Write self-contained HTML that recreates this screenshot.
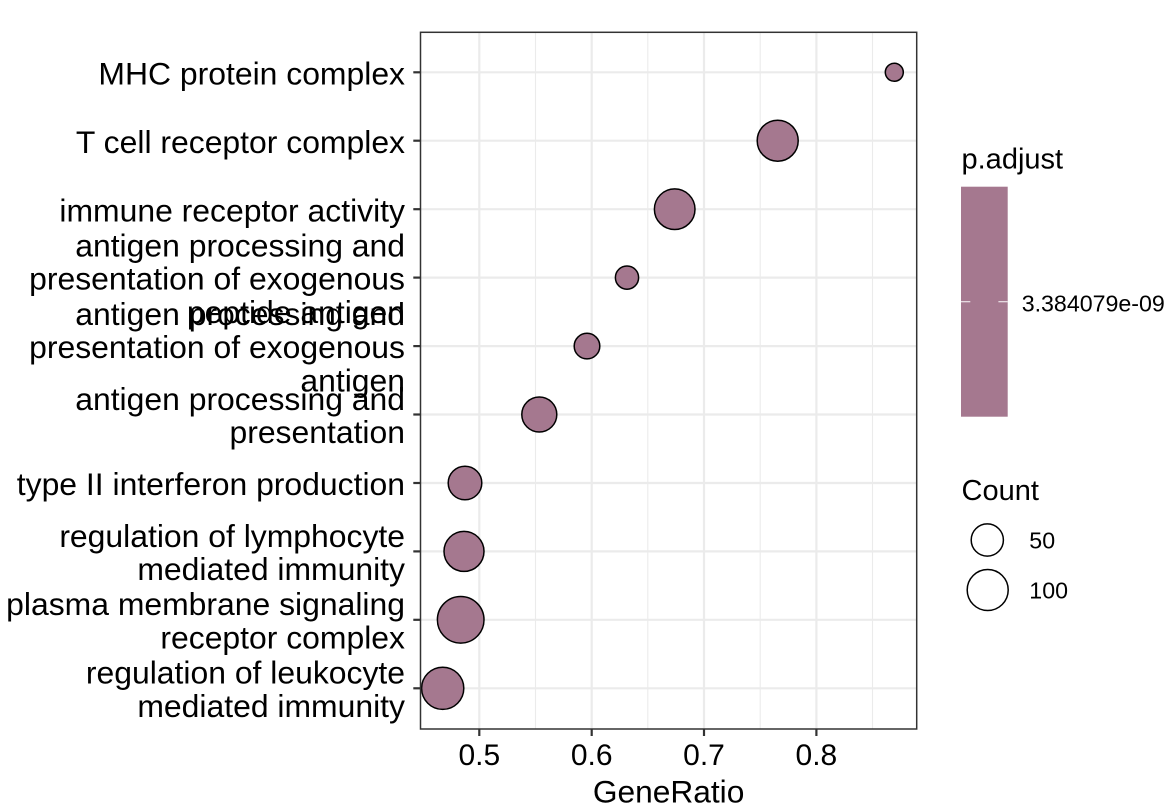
<!DOCTYPE html>
<html>
<head>
<meta charset="utf-8">
<style>
html,body{margin:0;padding:0;background:#fff;}
svg{display:block;}
text{font-family:"Liberation Sans",Arial,Helvetica,sans-serif;fill:#000;}
.yl{font-size:31.9px;text-anchor:end;}
.xl{font-size:30px;text-anchor:middle;fill:#000;}
</style>
</head>
<body>
<svg width="1170" height="810" viewBox="0 0 1170 810" xmlns="http://www.w3.org/2000/svg">
<rect x="0" y="0" width="1170" height="810" fill="#fff"/>
<rect x="420.5" y="32.3" width="496.2" height="696.7" fill="#fff"/>
<g stroke="#EBEBEB" stroke-width="1.1">
<line x1="535.5" y1="32.3" x2="535.5" y2="729"/>
<line x1="647.8" y1="32.3" x2="647.8" y2="729"/>
<line x1="760.2" y1="32.3" x2="760.2" y2="729"/>
<line x1="872.5" y1="32.3" x2="872.5" y2="729"/>
</g>
<g stroke="#EBEBEB" stroke-width="2.2">
<line x1="479.3" y1="32.3" x2="479.3" y2="729"/>
<line x1="591.7" y1="32.3" x2="591.7" y2="729"/>
<line x1="704" y1="32.3" x2="704" y2="729"/>
<line x1="816.4" y1="32.3" x2="816.4" y2="729"/>
<line x1="420.5" y1="72.3" x2="916.7" y2="72.3"/>
<line x1="420.5" y1="140.7" x2="916.7" y2="140.7"/>
<line x1="420.5" y1="209.2" x2="916.7" y2="209.2"/>
<line x1="420.5" y1="277.6" x2="916.7" y2="277.6"/>
<line x1="420.5" y1="346.1" x2="916.7" y2="346.1"/>
<line x1="420.5" y1="414.5" x2="916.7" y2="414.5"/>
<line x1="420.5" y1="483" x2="916.7" y2="483"/>
<line x1="420.5" y1="551.4" x2="916.7" y2="551.4"/>
<line x1="420.5" y1="619.8" x2="916.7" y2="619.8"/>
<line x1="420.5" y1="688.3" x2="916.7" y2="688.3"/>
</g>
<g fill="#A5788F" stroke="#000" stroke-width="1.5">
<circle cx="894.3" cy="72.3" r="9"/>
<circle cx="777.7" cy="140.7" r="20.5"/>
<circle cx="674.7" cy="209.2" r="20.3"/>
<circle cx="627" cy="277.6" r="11.6"/>
<circle cx="587" cy="346.1" r="12.8"/>
<circle cx="539.3" cy="414.5" r="17.5"/>
<circle cx="465" cy="483" r="16.8"/>
<circle cx="464" cy="551.4" r="20"/>
<circle cx="460.7" cy="619.8" r="23.3"/>
<circle cx="442.7" cy="688.3" r="21.1"/>
</g>
<rect x="420.5" y="32.3" width="496.2" height="696.7" fill="none" stroke="#333333" stroke-width="1.5"/>
<g stroke="#333333" stroke-width="2.2">
<line x1="413.3" y1="72.3" x2="420.5" y2="72.3"/>
<line x1="413.3" y1="140.7" x2="420.5" y2="140.7"/>
<line x1="413.3" y1="209.2" x2="420.5" y2="209.2"/>
<line x1="413.3" y1="277.6" x2="420.5" y2="277.6"/>
<line x1="413.3" y1="346.1" x2="420.5" y2="346.1"/>
<line x1="413.3" y1="414.5" x2="420.5" y2="414.5"/>
<line x1="413.3" y1="483" x2="420.5" y2="483"/>
<line x1="413.3" y1="551.4" x2="420.5" y2="551.4"/>
<line x1="413.3" y1="619.8" x2="420.5" y2="619.8"/>
<line x1="413.3" y1="688.3" x2="420.5" y2="688.3"/>
<line x1="479.3" y1="729" x2="479.3" y2="736"/>
<line x1="591.7" y1="729" x2="591.7" y2="736"/>
<line x1="704" y1="729" x2="704" y2="736"/>
<line x1="816.4" y1="729" x2="816.4" y2="736"/>
</g>
<text class="yl" x="405" y="84.5">MHC protein complex</text>
<text class="yl" x="405" y="152.9">T cell receptor complex</text>
<text class="yl" x="405" y="221.4">immune receptor activity</text>
<text class="yl" x="405" y="256.4">antigen processing and</text>
<text class="yl" x="405" y="289.7">presentation of exogenous</text>
<text class="yl" x="405" y="323">peptide antigen</text>
<text class="yl" x="405" y="324.9">antigen processing and</text>
<text class="yl" x="405" y="358.2">presentation of exogenous</text>
<text class="yl" x="405" y="391.5">antigen</text>
<text class="yl" x="405" y="409.9">antigen processing and</text>
<text class="yl" x="405" y="443.2">presentation</text>
<text class="yl" x="405" y="495.2">type II interferon production</text>
<text class="yl" x="405" y="546.8">regulation of lymphocyte</text>
<text class="yl" x="405" y="580.1">mediated immunity</text>
<text class="yl" x="405" y="615.2">plasma membrane signaling</text>
<text class="yl" x="405" y="648.5">receptor complex</text>
<text class="yl" x="405" y="683.7">regulation of leukocyte</text>
<text class="yl" x="405" y="717">mediated immunity</text>
<text class="xl" x="479.3" y="765">0.5</text>
<text class="xl" x="591.7" y="765">0.6</text>
<text class="xl" x="704" y="765">0.7</text>
<text class="xl" x="816.4" y="765">0.8</text>
<text x="668.6" y="802.7" style="font-size:31.7px;text-anchor:middle;">GeneRatio</text>
<text x="961.5" y="168.3" style="font-size:29px;">p.adjust</text>
<rect x="961" y="186.7" width="46.7" height="230" fill="#A5788F"/>
<g stroke="#ffffff" stroke-opacity="0.8" stroke-width="1.2">
<line x1="961" y1="301.7" x2="970.3" y2="301.7"/>
<line x1="998.4" y1="301.7" x2="1007.7" y2="301.7"/>
</g>
<text x="1021.7" y="311.7" style="font-size:23.2px;">3.384079e-09</text>
<text x="961.5" y="500" style="font-size:29px;">Count</text>
<circle cx="987.3" cy="540" r="16.1" fill="#fff" stroke="#000" stroke-width="1.5"/>
<circle cx="987.7" cy="590" r="20.5" fill="#fff" stroke="#000" stroke-width="1.5"/>
<text x="1029.3" y="548.3" style="font-size:23.2px;">50</text>
<text x="1029.3" y="598.3" style="font-size:23.2px;">100</text>
</svg>
</body>
</html>
